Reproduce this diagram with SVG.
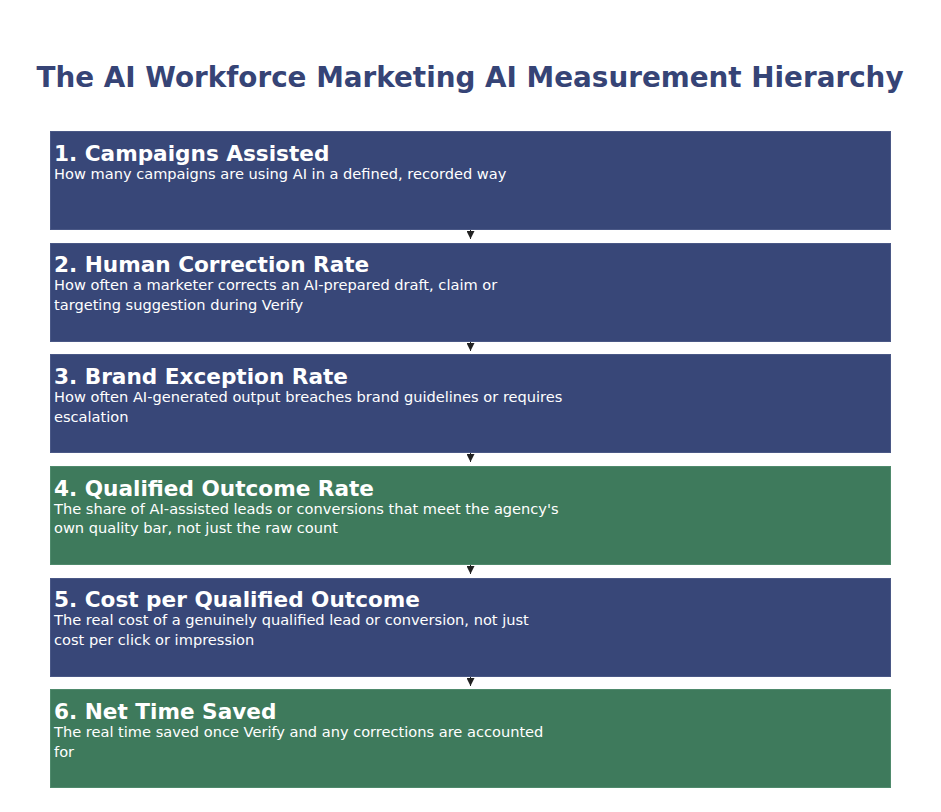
<svg xmlns="http://www.w3.org/2000/svg" width="941" height="812" viewBox="0 0 941 812">
<style>
.bg{fill:#ffffff}
.title{font-family:"DejaVu Sans",sans-serif;font-weight:bold;font-size:27.8px;fill:#364476}
.blue{fill:#384778;stroke:#4a5886;stroke-width:1}
.green{fill:#3e7a5c;stroke:#4f8a6c;stroke-width:1}
.h{font-family:"DejaVu Sans",sans-serif;font-weight:bold;font-size:21.6px;fill:#ffffff}
.d{font-family:"DejaVu Sans",sans-serif;font-size:14.6px;fill:#ffffff}
.conn{stroke:#222222;stroke-width:1;fill:none}
</style>
<defs>
<marker id="arr" viewBox="0 0 8 8" refX="8" refY="4" markerWidth="8" markerHeight="8" orient="auto" markerUnits="userSpaceOnUse">
<path d="M0,0 L8,4 L0,8 z" fill="#222222"/>
</marker>
</defs>
<rect class="bg" x="0" y="0" width="941" height="812"/>
<text class="title" x="470" y="87" text-anchor="middle">The AI Workforce Marketing AI Measurement Hierarchy</text>
<g id="connectors">
<line class="conn" x1="470.5" y1="230" x2="470.5" y2="239" marker-end="url(#arr)"/>
<line class="conn" x1="470.5" y1="342" x2="470.5" y2="351" marker-end="url(#arr)"/>
<line class="conn" x1="470.5" y1="453" x2="470.5" y2="462" marker-end="url(#arr)"/>
<line class="conn" x1="470.5" y1="565" x2="470.5" y2="574" marker-end="url(#arr)"/>
<line class="conn" x1="470.5" y1="677" x2="470.5" y2="686" marker-end="url(#arr)"/>
</g>
<g id="node1">
<rect class="blue" x="50.5" y="131.5" width="840" height="98"/>
<text class="h" x="54" y="161">1. Campaigns Assisted</text>
<text class="d" x="54" y="179">How many campaigns are using AI in a defined, recorded way</text>
</g>
<g id="node2">
<rect class="blue" x="50.5" y="243.5" width="840" height="98"/>
<text class="h" x="54" y="272">2. Human Correction Rate</text>
<text class="d" x="54" y="290">How often a marketer corrects an AI-prepared draft, claim or</text>
<text class="d" x="54" y="310">targeting suggestion during Verify</text>
</g>
<g id="node3">
<rect class="blue" x="50.5" y="354.5" width="840" height="98"/>
<text class="h" x="54" y="384">3. Brand Exception Rate</text>
<text class="d" x="54" y="402">How often AI-generated output breaches brand guidelines or requires</text>
<text class="d" x="54" y="422">escalation</text>
</g>
<g id="node4">
<rect class="green" x="50.5" y="466.5" width="840" height="98"/>
<text class="h" x="54" y="496">4. Qualified Outcome Rate</text>
<text class="d" x="54" y="514">The share of AI-assisted leads or conversions that meet the agency's</text>
<text class="d" x="54" y="533">own quality bar, not just the raw count</text>
</g>
<g id="node5">
<rect class="blue" x="50.5" y="578.5" width="840" height="98"/>
<text class="h" x="54" y="607">5. Cost per Qualified Outcome</text>
<text class="d" x="54" y="625">The real cost of a genuinely qualified lead or conversion, not just</text>
<text class="d" x="54" y="645">cost per click or impression</text>
</g>
<g id="node6">
<rect class="green" x="50.5" y="689.5" width="840" height="98"/>
<text class="h" x="54" y="719">6. Net Time Saved</text>
<text class="d" x="54" y="737">The real time saved once Verify and any corrections are accounted</text>
<text class="d" x="54" y="757">for</text>
</g>
</svg>
